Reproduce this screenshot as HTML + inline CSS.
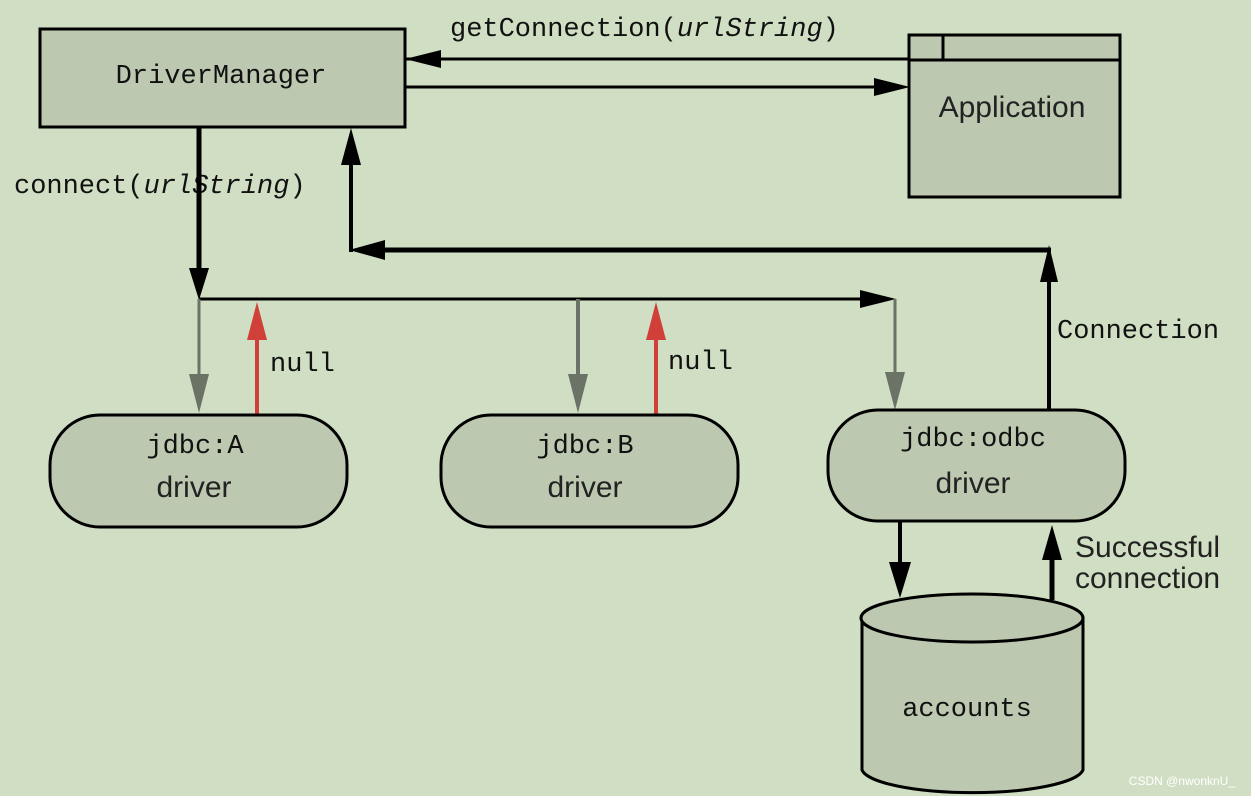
<!DOCTYPE html>
<html><head><meta charset="utf-8"><style>
html,body{margin:0;padding:0;background:#d0dfc3;}
svg{display:block}
.m{font-family:"Liberation Mono",monospace;font-size:27px;fill:#111}
.s{font-family:"Liberation Sans",sans-serif;font-size:30px;fill:#222}
</style></head><body>
<svg width="1251" height="796" viewBox="0 0 1251 796" xmlns="http://www.w3.org/2000/svg">
<rect x="0" y="0" width="1251" height="796" fill="#d0dfc3"/>
<rect x="40" y="29" width="365" height="98" fill="#bcc9b0" stroke="#000" stroke-width="3"/>
<text x="221" y="83" class="m" text-anchor="middle">DriverManager</text>
<rect x="909" y="35" width="211" height="162" fill="#bcc9b0" stroke="#000" stroke-width="3"/>
<line x1="909" y1="60" x2="1120" y2="60" stroke="#000" stroke-width="3"/>
<line x1="943" y1="35" x2="943" y2="60" stroke="#000" stroke-width="3"/>
<text x="1012" y="117" class="s" text-anchor="middle">Application</text>
<text x="450" y="36" class="m">getConnection(<tspan font-style="italic">urlString</tspan>)</text>
<line x1="405" y1="59" x2="909" y2="59" stroke="#000" stroke-width="3"/>
<polygon points="405,59 441,50 441,68" fill="#000"/>
<line x1="405" y1="87" x2="880" y2="87" stroke="#000" stroke-width="3"/>
<polygon points="910,87 874,78 874,96" fill="#000"/>
<text x="14" y="193" class="m">connect(<tspan font-style="italic">urlString</tspan>)</text>
<line x1="199" y1="127" x2="199" y2="280" stroke="#000" stroke-width="5"/>
<polygon points="199,300 189,268 209,268" fill="#000"/>
<line x1="199" y1="299" x2="870" y2="299" stroke="#000" stroke-width="3"/>
<polygon points="896,299 860,290 860,308" fill="#000"/>
<line x1="199" y1="299" x2="199" y2="390" stroke="#6b7266" stroke-width="3"/>
<polygon points="199,413 189,374 209,374" fill="#6b7266"/>
<line x1="578" y1="299" x2="578" y2="390" stroke="#6b7266" stroke-width="4"/>
<polygon points="578,413 568,374 588,374" fill="#6b7266"/>
<line x1="895" y1="299" x2="895" y2="390" stroke="#6b7266" stroke-width="3"/>
<polygon points="895,410 885,372 905,372" fill="#6b7266"/>
<line x1="257" y1="330" x2="257" y2="414" stroke="#d04038" stroke-width="4"/>
<polygon points="257,302 247,340 267,340" fill="#d04038"/>
<line x1="656" y1="330" x2="656" y2="414" stroke="#d04038" stroke-width="4"/>
<polygon points="656,302 646,340 666,340" fill="#d04038"/>
<text x="270" y="371" class="m" font-size="25">null</text>
<text x="668" y="369" class="m" font-size="25">null</text>
<line x1="1049" y1="270" x2="1049" y2="410" stroke="#000" stroke-width="4"/>
<polygon points="1049,245 1040,282 1058,282" fill="#000"/>
<line x1="375" y1="250" x2="1051" y2="250" stroke="#000" stroke-width="5"/>
<polygon points="349,250 385,240 385,260" fill="#000"/>
<line x1="351" y1="150" x2="351" y2="252" stroke="#000" stroke-width="4"/>
<polygon points="351,128 341,165 361,165" fill="#000"/>
<text x="1057" y="338" class="m" font-size="30">Connection</text>
<rect x="50" y="415" width="297" height="112" rx="50" fill="#bcc9b0" stroke="#000" stroke-width="3"/>
<text x="195" y="453" class="m" text-anchor="middle">jdbc:A</text>
<text x="194" y="497" class="s" text-anchor="middle">driver</text>
<rect x="441" y="415" width="297" height="112" rx="50" fill="#bcc9b0" stroke="#000" stroke-width="3"/>
<text x="585" y="453" class="m" text-anchor="middle">jdbc:B</text>
<text x="585" y="497" class="s" text-anchor="middle">driver</text>
<rect x="828" y="410" width="297" height="111" rx="50" fill="#bcc9b0" stroke="#000" stroke-width="3"/>
<text x="973" y="446" class="m" text-anchor="middle">jdbc:odbc</text>
<text x="973" y="493" class="s" text-anchor="middle">driver</text>
<line x1="900" y1="521" x2="900" y2="575" stroke="#000" stroke-width="4"/>
<polygon points="900,598 889,562 911,562" fill="#000"/>
<line x1="1052" y1="545" x2="1052" y2="600" stroke="#000" stroke-width="5"/>
<polygon points="1052,525 1042,560 1062,560" fill="#000"/>
<text x="1075" y="557" class="s">Successful</text>
<text x="1075" y="588" class="s">connection</text>
<path d="M862,618 L862,770 A111,25 0 0 0 1083,770 L1083,618 Z" fill="#bcc9b0" stroke="#000" stroke-width="3"/>
<ellipse cx="972" cy="618" rx="111" ry="24" fill="#bcc9b0" stroke="#000" stroke-width="3"/>
<text x="967" y="716" class="m" text-anchor="middle">accounts</text>
<text x="1235" y="785" font-family="Liberation Sans,sans-serif" font-size="12" fill="#fff" text-anchor="end">CSDN @nwonknU_</text>
</svg>
</body></html>
